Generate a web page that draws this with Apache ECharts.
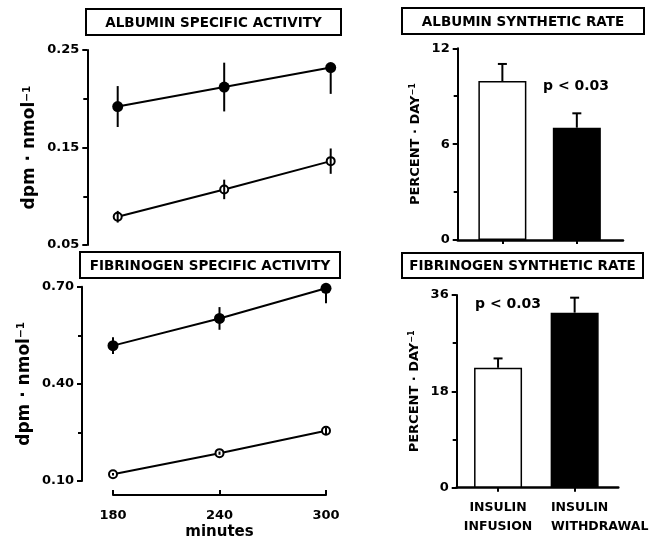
<!DOCTYPE html>
<html><head><meta charset="utf-8">
<script src="https://cdn.jsdelivr.net/npm/echarts@6/dist/echarts.min.js"></script>
<style>html,body{margin:0;padding:0;background:#fff}#c{width:651px;height:537px}</style>
</head><body><div id="c"></div>
<script>
// ---- data ----
const minutes = [180, 240, 300];
const albuminWithdrawal = [0.192, 0.212, 0.232];
const albuminWithdrawalErrLow = [0.021, 0.025, 0.027];
const albuminWithdrawalErrHigh = [0.021, 0.025, 0];
const albuminInfusion = [0.079, 0.107, 0.136];
const albuminInfusionErr = [0.006, 0.010, 0.013];
const fibrinogenWithdrawal = [0.518, 0.602, 0.695];
const fibrinogenWithdrawalErrLow = [0.026, 0.035, 0.046];
const fibrinogenWithdrawalErrHigh = [0.026, 0.035, 0];
const fibrinogenInfusion = [0.121, 0.186, 0.255];
const fibrinogenInfusionErr = [0.004, 0.005, 0.010];
const groups = ['INSULIN\nINFUSION', 'INSULIN\nWITHDRAWAL'];
const albuminRate = [9.95, 7.03];
const albuminRateErr = [1.07, 0.90];
const fibrinogenRate = [22.4, 32.7];
const fibrinogenRateErr = [1.75, 2.8];
const panelTitles = ['ALBUMIN SPECIFIC ACTIVITY', 'ALBUMIN SYNTHETIC RATE', 'FIBRINOGEN SPECIFIC ACTIVITY', 'FIBRINOGEN SYNTHETIC RATE'];
const pText = 'p < 0.03';

// ---- styles ----
const FONT = '"DejaVu Sans", sans-serif';
const K = '#000';
const txt = (size) => ({ fontFamily: FONT, fontWeight: 'bold', fontSize: size, color: K });
const zeros = n => new Array(n).fill(0);
const groupPos = [1, 2];

function lineSeries(gi, ys, filled) {
  return {
    type: 'line', xAxisIndex: gi, yAxisIndex: gi, z: 3,
    data: minutes.map((m, i) => [m, ys[i]]),
    symbol: 'circle', symbolSize: filled ? 11 : 8,
    lineStyle: { color: K, width: 2 },
    itemStyle: filled ? { color: K } : { color: '#fff', borderColor: K, borderWidth: 2 },
    animation: false
  };
}
function errSeries(gi, xs, ys, lo, hi, cap) {
  return {
    type: 'custom', xAxisIndex: gi, yAxisIndex: gi, z: 6, clip: false, animation: false,
    data: xs.map((x, i) => [x, ys[i], ys[i] - lo[i], ys[i] + hi[i]]),
    renderItem(params, api) {
      const p1 = api.coord([api.value(0), api.value(2)]);
      const p2 = api.coord([api.value(0), api.value(3)]);
      const ch = [{ type: 'line', shape: { x1: p1[0], y1: p1[1], x2: p2[0], y2: p2[1] }, style: { stroke: K, lineWidth: 2 } }];
      if (cap) ch.push({ type: 'line', shape: { x1: p2[0] - cap, y1: p2[1], x2: p2[0] + cap, y2: p2[1] }, style: { stroke: K, lineWidth: 2 } });
      return { type: 'group', children: ch };
    }
  };
}
function barSeries(gi, vals) {
  return {
    type: 'bar', xAxisIndex: gi, yAxisIndex: gi, barWidth: 48, z: 3, animation: false,
    data: vals.map((v, i) => ({
      value: [groupPos[i], v],
      itemStyle: i === 0 ? { color: '#fff', borderColor: K, borderWidth: 1.5 } : { color: K, borderColor: K, borderWidth: 1.5 }
    }))
  };
}
function yAx(gi, min, max, interval, dec, offset, name, nameGap, nameSize) {
  return {
    gridIndex: gi, type: 'value', min, max, interval, offset,
    axisLine: { show: true, lineStyle: { color: K, width: 2 } },
    axisTick: { show: true, length: 5, lineStyle: { color: K, width: 2 } },
    minorTick: { show: true, splitNumber: 2, length: 4, lineStyle: { color: K, width: 2 } },
    splitLine: { show: false },
    axisLabel: Object.assign(txt(13), { margin: 8, formatter: v => v.toFixed(dec) }),
    name, nameLocation: 'middle', nameGap,
    nameTextStyle: Object.assign(txt(nameSize), {
      rich: {
        n: txt(nameSize),
        s: Object.assign(txt(nameSize * 0.62), { verticalAlign: 'top' })
      }
    })
  };
}
function groupLabel(i) {
  const lines = groups[i].split('\n');
  return i === 0 ? lines.map(l => '{a|' + l + '}').join('\n') : lines.map(l => '{w|' + l + '}').join('\n');
}

const titleBoxes = [
  [86, 9, 255, 26], [402, 8, 242, 26], [80, 252, 260, 26], [402, 253, 241, 25]
];
const graphic = [];
panelTitles.forEach((t, i) => {
  const b = titleBoxes[i];
  graphic.push({ type: 'rect', shape: { x: b[0], y: b[1], width: b[2], height: b[3] }, style: { fill: '#fff', stroke: K, lineWidth: 2 }, z: 10 });
  graphic.push({ type: 'text', x: b[0] + b[2] / 2, y: b[1] + b[3] / 2 + 1, z: 11,
    style: { text: t, textAlign: 'center', textVerticalAlign: 'middle', fill: K, font: 'bold 13.5px ' + FONT } });
});
graphic.push({ type: 'text', x: 543, y: 86, z: 11, style: { text: pText, textAlign: 'left', textVerticalAlign: 'middle', fill: K, font: 'bold 14px ' + FONT } });
graphic.push({ type: 'text', x: 475, y: 304, z: 11, style: { text: pText, textAlign: 'left', textVerticalAlign: 'middle', fill: K, font: 'bold 14px ' + FONT } });

const richLabels = {
  a: Object.assign(txt(12.5), { lineHeight: 19 }),
  w: Object.assign(txt(12.5), { lineHeight: 19, align: 'left', padding: [0, 0, 0, 50] })
};

const option = {
  backgroundColor: '#fff',
  animation: false,
  grid: [
    { left: 117.7, top: 50, width: 213, height: 195, outerBoundsMode: 'none' },
    { left: 113, top: 286.7, width: 213, height: 194.3, outerBoundsMode: 'none' },
    { left: 457.7, top: 48.3, width: 165.3, height: 191.7, outerBoundsMode: 'none' },
    { left: 456.7, top: 295, width: 161.6, height: 192.7, outerBoundsMode: 'none' }
  ],
  xAxis: [
    { gridIndex: 0, type: 'value', min: 180, max: 300, show: false },
    {
      gridIndex: 1, type: 'value', min: 180, max: 300, interval: 60, offset: 14,
      axisLine: { lineStyle: { color: K, width: 2 } },
      axisTick: { inside: true, length: 5, lineStyle: { color: K, width: 2 } },
      splitLine: { show: false },
      axisLabel: Object.assign(txt(13), { margin: 14 }),
      name: 'minutes', nameLocation: 'middle', nameGap: 30, nameTextStyle: txt(15)
    },
    {
      gridIndex: 2, type: 'value', min: 0.4, max: 2.62,
      axisLine: { lineStyle: { color: K, width: 2.5 } },
      axisTick: { customValues: groupPos, length: 4, lineStyle: { color: K, width: 2 } },
      axisLabel: { show: false }, splitLine: { show: false }
    },
    {
      gridIndex: 3, type: 'value', min: 0.46, max: 2.57, position: 'bottom',
      axisLine: { lineStyle: { color: K, width: 2.5 } },
      axisTick: { customValues: groupPos, length: 4, lineStyle: { color: K, width: 2 } },
      splitLine: { show: false },
      axisLabel: Object.assign(txt(12.5), {
        customValues: [groupPos[0]], margin: 11, lineHeight: 19, hideOverlap: false,
        formatter: () => groupLabel(0), rich: richLabels
      })
    },
    {
      gridIndex: 3, type: 'value', min: 0.46, max: 2.57, position: 'bottom', offset: 0,
      axisLine: { show: false }, axisTick: { show: false }, splitLine: { show: false },
      axisLabel: Object.assign(txt(12.5), {
        customValues: [groupPos[1]], margin: 11, lineHeight: 19, hideOverlap: false,
        formatter: () => groupLabel(1), rich: richLabels
      })
    }
  ],
  yAxis: [
    yAx(0, 0.05, 0.25, 0.1, 2, 30.4, '{n|dpm · nmol}{s|−1}', 49, 17),
    yAx(1, 0.10, 0.70, 0.3, 2, 31, '{n|dpm · nmol}{s|−1}', 49, 17),
    yAx(2, 0, 12, 6, 0, 0, '{n|PERCENT · DAY}{s|−1}', 36, 13),
    yAx(3, 0, 36, 18, 0, 0, '{n|PERCENT · DAY}{s|−1}', 36, 13)
  ],
  graphic,
  series: [
    lineSeries(0, albuminWithdrawal, true),
    lineSeries(0, albuminInfusion, false),
    errSeries(0, minutes, albuminWithdrawal, albuminWithdrawalErrLow, albuminWithdrawalErrHigh, 0),
    errSeries(0, minutes, albuminInfusion, albuminInfusionErr, albuminInfusionErr, 0),
    lineSeries(1, fibrinogenWithdrawal, true),
    lineSeries(1, fibrinogenInfusion, false),
    errSeries(1, minutes, fibrinogenWithdrawal, fibrinogenWithdrawalErrLow, fibrinogenWithdrawalErrHigh, 0),
    errSeries(1, minutes, fibrinogenInfusion, fibrinogenInfusionErr, fibrinogenInfusionErr, 0),
    barSeries(2, albuminRate),
    errSeries(2, groupPos, albuminRate, zeros(2), albuminRateErr, 4.5),
    barSeries(3, fibrinogenRate),
    errSeries(3, groupPos, fibrinogenRate, zeros(2), fibrinogenRateErr, 4.5)
  ]
};
const chart = echarts.init(document.getElementById('c'), null, { renderer: 'canvas' });
chart.setOption(option);
</script>
</body></html>
